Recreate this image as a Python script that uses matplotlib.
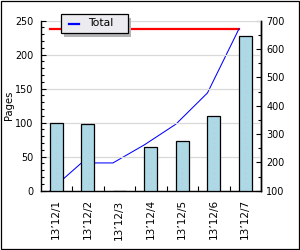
import matplotlib

matplotlib.use("Agg")
import matplotlib.pyplot as plt
import numpy as np
from matplotlib.lines import Line2D
from matplotlib.patches import Rectangle
from matplotlib.ticker import MultipleLocator, FixedLocator

# values
DAYS = ["13’12/1", "13’12/2", "13’12/3", "13’12/4", "13’12/5", "13’12/6", "13’12/7"]
PAGES = [100, 98, 0, 64, 73, 110, 228]
TOTAL = [100, 198, 198, 262, 335, 445, 671]
TOTAL_MAX = [671, 671, 671, 671, 671, 671, 671]

BAR_COLOR = "#add8e6"
W, H = 300, 250


def fx(px):
    return px / W


def fy(py):
    # pixel rows counted from the top
    return 1 - py / H


def main() -> int:
    plt.rcParams.update({"font.family": "DejaVu Sans", "font.size": 6.9})

    fig = plt.figure(figsize=(W / 100, H / 100), dpi=100)
    fig.patch.set_facecolor("white")
    ax = fig.add_axes([fx(40.5), fy(190.7), fx(220.5), 170.0 / H])
    ax2 = ax.twinx()

    x = np.arange(len(DAYS))
    line_x = x - 0.2

    ax.yaxis.grid(True, color="#d9d9d9", linewidth=0.9, zorder=0)
    ax.set_axisbelow(True)

    ax.bar(x, PAGES, width=0.42, color=BAR_COLOR, edgecolor="black", linewidth=0.9, zorder=3)
    for xi, h in zip(x, PAGES):
        if h > 0:
            ax.plot([xi, xi], [2, h - 2], color="#e6b3bd", linestyle=(0, (0.6, 4)),
                    linewidth=0.8, zorder=4)

    ax.set_zorder(ax2.get_zorder() + 1)
    ax.patch.set_visible(False)
    ax2.plot(line_x, TOTAL_MAX, color="#ff0000", linewidth=1.6, zorder=2)
    ax2.plot(line_x, TOTAL, color="#0000ff", linewidth=0.75, zorder=2)

    ax.set_xlim(-0.5, len(DAYS) - 0.5)
    ax.set_ylim(0, 250)
    ax2.set_ylim(100, 700)

    ax.set_xticks(x)
    ax.set_xticklabels(DAYS, rotation=90, fontsize=7.6)
    ax.xaxis.set_minor_locator(FixedLocator(x[:-1] + 0.5))
    ax.tick_params(axis="x", which="major", length=0, pad=6.2)
    ax.tick_params(axis="x", which="minor", direction="in", length=3.6, width=0.8)

    ax.yaxis.set_major_locator(MultipleLocator(50))
    ax.yaxis.set_minor_locator(MultipleLocator(10))
    ax.tick_params(axis="y", which="major", direction="in", length=3.4, width=0.8, pad=5.2)
    ax.tick_params(axis="y", which="minor", direction="in", length=2.2, width=0.8)

    ax2.yaxis.set_major_locator(MultipleLocator(100))
    ax2.yaxis.set_minor_locator(MultipleLocator(50))
    ax2.tick_params(axis="y", which="major", direction="in", length=3.4, width=0.8, pad=3.8)
    ax2.tick_params(axis="y", which="minor", direction="in", length=2.2, width=0.8)

    for a in (ax, ax2):
        a.spines["top"].set_visible(False)
        for s in ("left", "right", "bottom"):
            a.spines[s].set_linewidth(1.0)
    ax2.spines["left"].set_visible(False)
    ax2.spines["bottom"].set_visible(False)

    ax.set_ylabel("Pages", fontsize=7.2)
    ax.yaxis.set_label_coords((14 - 40.5) / 220.5, 0.5)

    # legend box with a drop shadow, drawn like the reference
    fig.add_artist(Rectangle((fx(64), fy(36.5)), fx(67), 19 / H, transform=fig.transFigure,
                             facecolor="#b4b4b4", edgecolor="none", zorder=10))
    fig.add_artist(Rectangle((fx(61), fy(33)), fx(67), 19 / H, transform=fig.transFigure,
                             facecolor="#ecebf0", edgecolor="black", linewidth=0.9, zorder=11))
    fig.add_artist(Line2D([fx(69), fx(79)], [fy(23.5), fy(23.5)], transform=fig.transFigure,
                          color="#0000ff", linewidth=1.6, zorder=12))
    fig.text(fx(88), fy(23.5), "Total", fontsize=7.8, va="center", ha="left", zorder=12)

    fig.add_artist(Rectangle((fx(0.5), 1.5 / H), fx(298), 248 / H,
                             transform=fig.transFigure, fill=False,
                             edgecolor="black", linewidth=0.9))

    fig.savefig("out.png", dpi=100)
    plt.close(fig)
    return 0


if __name__ == "__main__":
    raise SystemExit(main())
